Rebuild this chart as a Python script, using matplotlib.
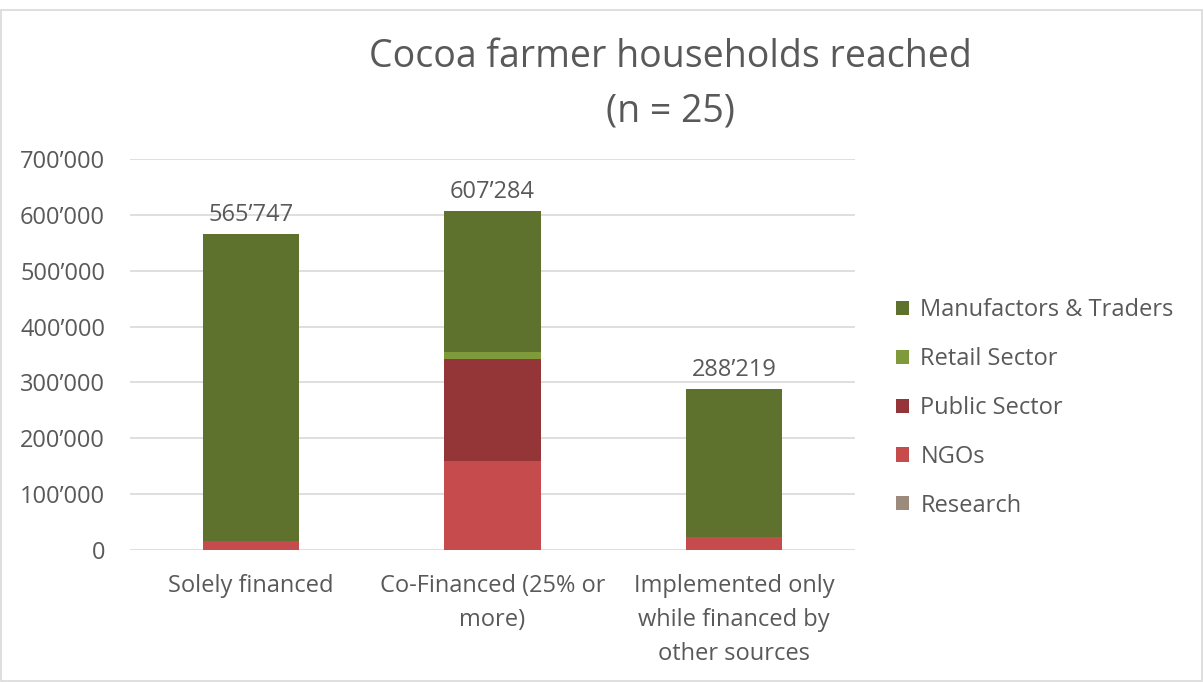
import numpy as np
import matplotlib.pyplot as plt
from matplotlib.patches import Rectangle

plt.rcParams['font.family'] = ['Open Sans', 'DejaVu Sans']

categories = ['Solely financed', 'Co-Financed (25% or\nmore)',
              'Implemented only\nwhile financed by\nother sources']
research = [0, 0, 0]
ngos = [16000, 159000, 22700]
public = [0, 182400, 0]
retail = [0, 13000, 0]
manufactors = [549747, 252884, 265519]
totals = [565747, 607284, 288219]
total_labels = ['565’747', '607’284', '288’219']
yticks = [0, 100000, 200000, 300000, 400000, 500000, 600000, 700000]
ytick_labels = ['0', '100’000', '200’000', '300’000', '400’000',
                '500’000', '600’000', '700’000']

series = [
    ('Research', research, '#9c8b7a'),
    ('NGOs', ngos, '#c64b4d'),
    ('Public Sector', public, '#943638'),
    ('Retail Sector', retail, '#7f9a3a'),
    ('Manufactors & Traders', manufactors, '#5e722d'),
]

txt = '#595959'
fs = 17
fig = plt.figure(figsize=(12.04, 6.82), dpi=100)
ax = fig.add_axes([0.108, 0.1935, 0.602, 0.5735])

# stacked bars, bottom to top
x = np.arange(len(categories))
bottom = np.zeros(len(categories))
handles = []
for name, vals, col in series:
    b = ax.bar(x, vals, 0.4, bottom=bottom, color=col, label=name, zorder=3)
    handles.append(b)
    bottom += np.array(vals)

for xi, tot, lab in zip(x, totals, total_labels):
    ax.annotate(lab, (xi, tot), xytext=(0, 5), textcoords='offset points',
                ha='center', va='bottom', fontsize=fs, color=txt)

ax.set_xlim(-0.5, 2.5)
ax.set_ylim(0, 700000)
ax.set_yticks(yticks)
ax.set_yticklabels(ytick_labels)
ax.set_xticks(x)
ax.set_xticklabels(categories, linespacing=1.56)
ax.tick_params(length=0, labelsize=fs, colors=txt)
ax.tick_params(axis='x', pad=17)
ax.tick_params(axis='y', pad=18)
ax.grid(axis='y', color='#d9d9d9', linewidth=1.2, zorder=0)
for s in ax.spines.values():
    s.set_visible(False)

fig.text(0.557, 0.916, 'Cocoa farmer households reached', ha='center',
         va='center', fontsize=27, color=txt)
fig.text(0.557, 0.837, '(n = 25)', ha='center', va='center',
         fontsize=27, color=txt)

leg_handles = handles[::-1]
ax.legend(leg_handles, [h.get_label() for h in leg_handles],
          loc='center left', bbox_to_anchor=(1.027, 0.363), frameon=False,
          fontsize=fs, labelcolor=txt, handlelength=0.55, handleheight=0.55,
          handletextpad=0.5, labelspacing=1.05)

fig.add_artist(Rectangle((0.001, 0.001), 0.997, 0.984, transform=fig.transFigure,
                         fill=False, edgecolor='#d9d9d9', linewidth=1.2))

fig.savefig('out.png', dpi=100)
